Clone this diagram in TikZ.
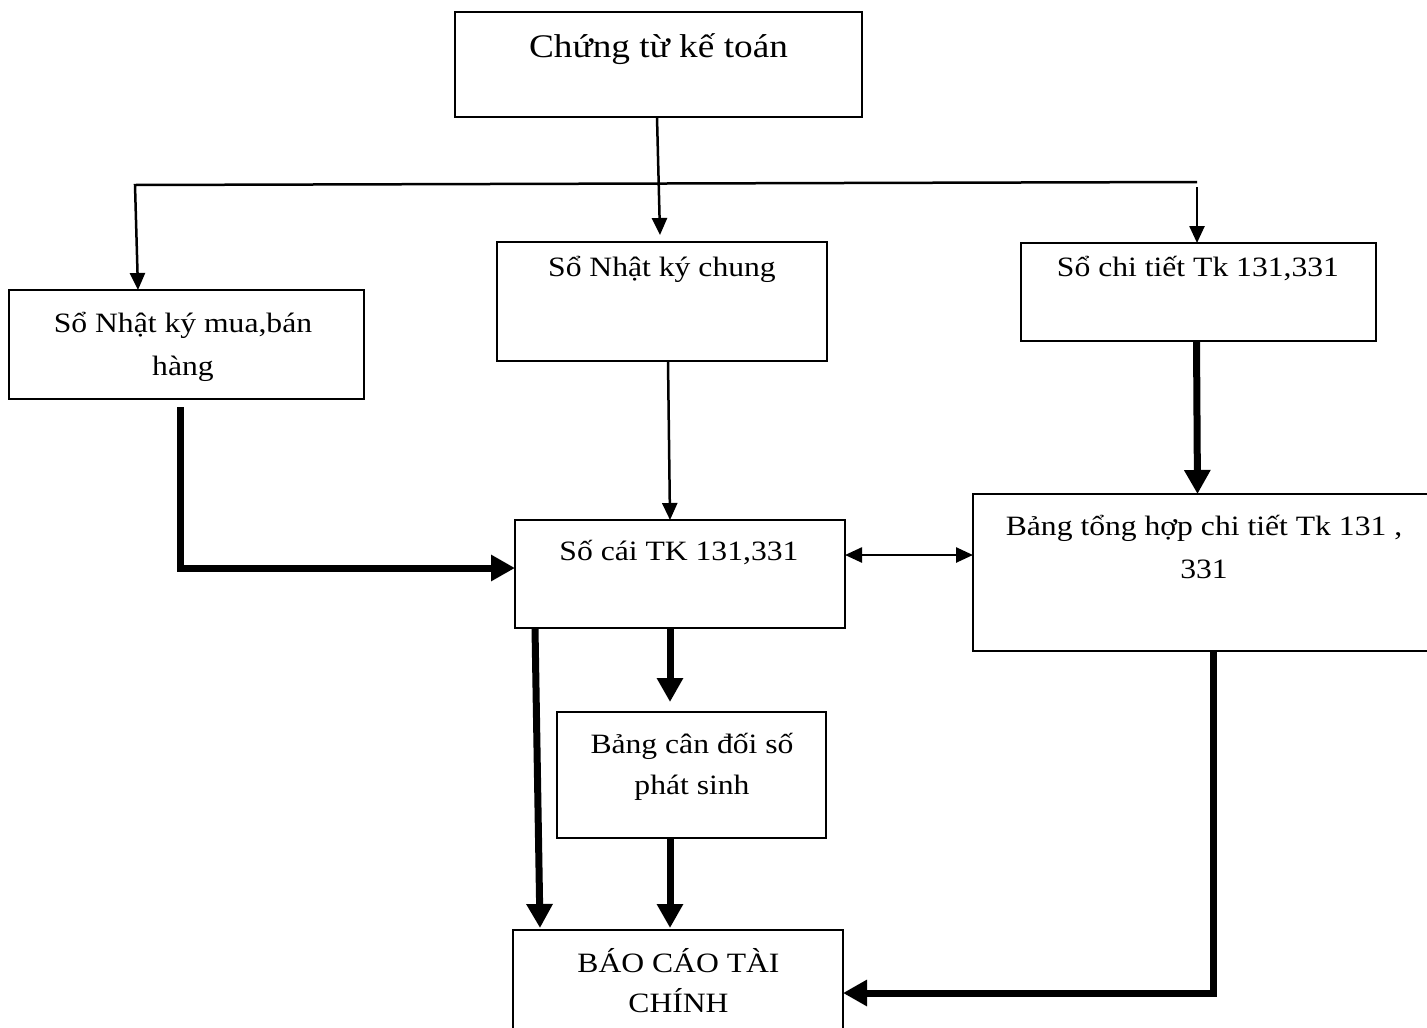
\documentclass[tikz,border=0pt]{standalone}
\usepackage{fontspec}
\setmainfont{Liberation Serif}[FakeStretch=1.13]
\usetikzlibrary{arrows.meta}
\begin{document}
\begin{tikzpicture}[x=1pt,y=-1pt,
  box/.style={draw, line width=2pt, rectangle, inner sep=0pt, outer sep=0pt},
  txt/.style={inner sep=0pt, anchor=base, font=\fontsize{28}{43}\selectfont},
  thinarrow/.style={line width=2.5pt, -{Triangle[length=17pt,width=15pt]}},
  thickarrow/.style={line width=7pt, -{Triangle[length=24pt,width=25pt]}},
]
\clip (0,0) rectangle (1427,1028);
\fill[white] (0,0) rectangle (1427,1028);

% boxes
\node[box, minimum width=407pt, minimum height=105pt] (ctkt) at (658.5,64.5) {};
\node[box, minimum width=355pt, minimum height=109pt] (nkmb) at (186.5,344.5) {};
\node[box, minimum width=330pt, minimum height=119pt] (nkc)  at (662,301.5) {};
\node[box, minimum width=355pt, minimum height=98pt]  (sct)  at (1198.5,292) {};
\node[box, minimum width=330pt, minimum height=108pt] (sc)   at (680,574) {};
\node[box, minimum width=463pt, minimum height=157pt] (bth)  at (1204.5,572.5) {};
\node[box, minimum width=269pt, minimum height=126pt] (bcd)  at (691.5,775) {};
\node[box, minimum width=330pt, minimum height=150pt] (bctc) at (678,1005) {};

% texts
\node[txt, font=\fontsize{33}{40}\selectfont] (ctkt-t) at (658.5,57) {Chứng từ kế toán};
\node[txt] (nkmb-t) at (183,332) {\begin{tabular}[t]{@{}c@{}}Sổ Nhật ký mua,bán\\ hàng\end{tabular}};
\node[txt] (nkc-t)  at (662,276) {Sổ Nhật ký chung};
\node[txt] (sct-t)  at (1198,276) {Sổ chi tiết Tk 131,331};
\node[txt] (sc-t)   at (679,560) {Số cái TK 131,331};
\node[txt] (bth-t)  at (1204,535) {\begin{tabular}[t]{@{}c@{}}Bảng tổng hợp chi tiết Tk 131 ,\\ 331\end{tabular}};
\node[txt, font=\fontsize{28}{41}\selectfont] (bcd-t)  at (692,753) {\begin{tabular}[t]{@{}c@{}}Bảng cân đối số\\ phát sinh\end{tabular}};
\node[txt, font=\fontsize{28}{40}\selectfont] (bctc-t) at (678.5,972) {\begin{tabular}[t]{@{}c@{}}BÁO CÁO TÀI\\ CHÍNH\end{tabular}};

% distribution line
\coordinate (busL) at (135,185);
\coordinate (busR) at (1197,182);
\coordinate (busRd) at (1197,187);

\draw[thinarrow] ([xshift=-1.5pt]ctkt.south) -- ([xshift=-2pt,yshift=7pt]nkc.north);
\draw[thinarrow] (busR) -- (busL) -- ([xshift=-48.5pt]nkmb.north);
\draw[thinarrow] (busRd) -- ([xshift=-1.5pt]sct.north);
\draw[thinarrow] ([xshift=6pt]nkc.south) -- ([xshift=-10pt]sc.north);
\draw[line width=2.5pt, {Triangle[length=17pt,width=15pt]}-{Triangle[length=17pt,width=15pt]}]
  ([yshift=19pt]sc.east) -- ([yshift=17.5pt]bth.west);

% thick connectors
\draw[thickarrow] ([xshift=-6.5pt,yshift=-8pt]nkmb.south) |- ([yshift=6pt]sc.west);
\draw[thickarrow] ([xshift=-2pt]sct.south) -- ([xshift=-7pt]bth.north);
\draw[thickarrow] ([xshift=-10pt]sc.south) -- ([xshift=-21.5pt,yshift=10pt]bcd.north);
\draw[thickarrow] ([xshift=-145pt]sc.south) -- ([xshift=-138pt,yshift=2pt]bctc.north);
\draw[thickarrow] ([xshift=-21.5pt]bcd.south) -- ([xshift=-8pt,yshift=2pt]bctc.north);
\draw[thickarrow] ([xshift=8.5pt]bth.south) |- ([yshift=12pt]bctc.east);
\end{tikzpicture}
\end{document}
